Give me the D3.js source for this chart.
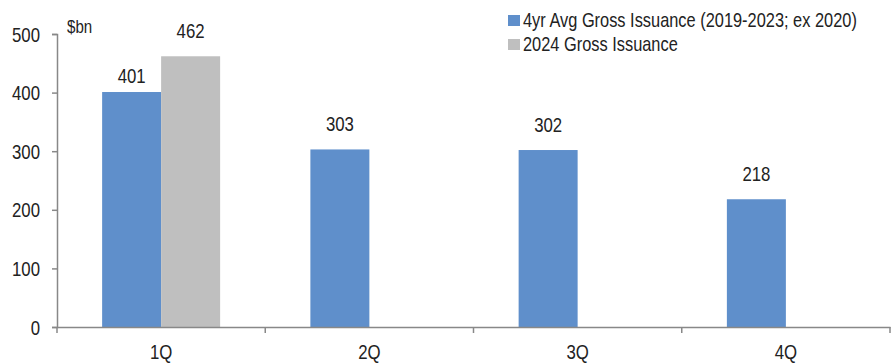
<!DOCTYPE html>
<html><head><meta charset="utf-8">
<script src="https://cdn.jsdelivr.net/npm/d3@7"></script>
<style>body{margin:0;background:#fff}svg{display:block}text{font-family:"Liberation Sans",Arial,sans-serif}</style>
</head><body><svg id="c" width="892" height="363"></svg>
<script>
const categories = ["1Q","2Q","3Q","4Q"];
const seriesNames = ["4yr Avg Gross Issuance (2019-2023; ex 2020)","2024 Gross Issuance"];
const avgValues = [401,303,302,218];
const y2024Values = [462,null,null,null];
const yTicks = [0,100,200,300,400,500];
const colors = ["#5f8fcb","#bfbfbf"];

const FS = 20, SX = 0.84, TXT = "#222";
const svg = d3.select("#c");
const m = {l:57, r:2, t:34, b:36};
const W = 892, H = 363;
const x0 = d3.scaleBand().domain(categories).range([m.l, W - m.r]).paddingInner(0).paddingOuter(0);
const x1 = d3.scaleBand().domain([0,1]).range([0, x0.bandwidth()]).paddingInner(0).paddingOuter(0.765);
const y = d3.scaleLinear().domain([0,500]).range([H - m.b, m.t]);

// condensed text helper
function ctext(sel, x, yy, str, anchor, sx){
  return sel.append("text").attr("transform",`translate(${x},${yy}) scale(${sx||SX},1)`)
    .attr("text-anchor",anchor||"start").attr("font-size",FS).attr("fill",TXT).text(str);
}

const data = categories.map((c,i)=>({c, vals:[avgValues[i], y2024Values[i]]}));

const g = svg.append("g");
data.forEach((d,i)=>{
  d.vals.forEach((v,j)=>{
    if(v==null) return;
    const bx = x0(d.c) + x1(j);
    g.append("rect").attr("x",bx).attr("width",x1.bandwidth()).attr("y",y(v)).attr("height",y(0)-y(v)).attr("fill",colors[j]);
    const gap = (i===0 && j===0) ? 9 : 18;
    ctext(g, bx + x1.bandwidth()/2, y(v)-gap, v, "middle");
  });
});

// y axis
const ya = svg.append("g").attr("transform",`translate(${m.l},0)`).call(d3.axisLeft(y).tickValues(yTicks).tickSize(5).tickFormat(""));
ya.select(".domain").attr("stroke","#888").attr("stroke-width",1.5);
ya.selectAll(".tick line").attr("stroke","#888").attr("stroke-width",1.5);
yTicks.forEach(t=>ctext(svg, 40, y(t)+7.5, t, "end"));

// x axis
const xa = svg.append("g").attr("transform",`translate(0,${y(0)})`).call(d3.axisBottom(x0).tickSize(0).tickFormat(""));
xa.select(".domain").attr("stroke","#888").attr("stroke-width",1.5);
const bounds = categories.map(c=>x0(c)).concat([x0.range()[1]]);
xa.selectAll(".bt").data(bounds).enter().append("line").attr("x1",d=>d).attr("x2",d=>d).attr("y1",0).attr("y2",6).attr("stroke","#888").attr("stroke-width",1.5);
categories.forEach(c=>ctext(svg, x0(c)+x0.bandwidth()/2, 359, c, "middle"));

svg.append("text").attr("transform","translate(67,33) scale(0.84,1)").attr("font-size",18).attr("fill",TXT).text("$bn");

// legend
const lg = svg.append("g");
seriesNames.forEach((n,i)=>{
  lg.append("rect").attr("x",508).attr("y",15+i*24).attr("width",12).attr("height",11).attr("fill",colors[i]);
  ctext(lg, 523, 27+i*23.5, n, "start", 0.82);
});
</script></body></html>
